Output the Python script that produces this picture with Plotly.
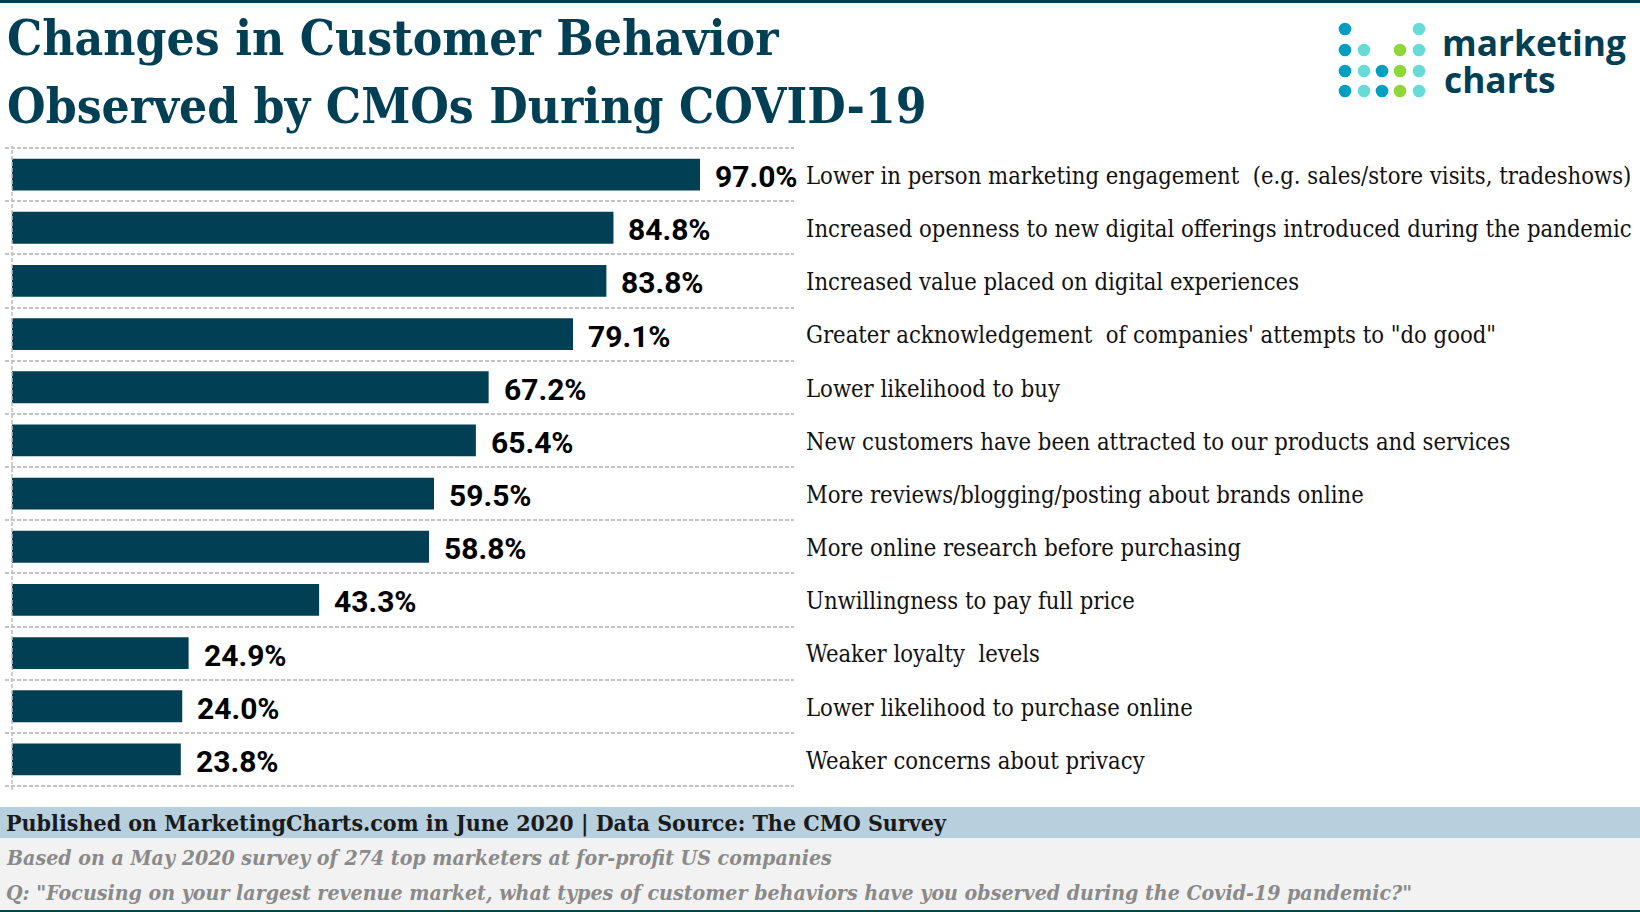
import plotly.graph_objects as go

W, H = 1640, 912

categories = [
    "Lower in person marketing engagement  (e.g. sales/store visits, tradeshows)",
    "Increased openness to new digital offerings introduced during the pandemic",
    "Increased value placed on digital experiences",
    "Greater acknowledgement  of companies' attempts to \"do good\"",
    "Lower likelihood to buy",
    "New customers have been attracted to our products and services",
    "More reviews/blogging/posting about brands online",
    "More online research before purchasing",
    "Unwillingness to pay full price",
    "Weaker loyalty  levels",
    "Lower likelihood to purchase online",
    "Weaker concerns about privacy",
]
values = [97.0, 84.8, 83.8, 79.1, 67.2, 65.4, 59.5, 58.8, 43.3, 24.9, 24.0, 23.8]

title_lines = ["Changes in Customer Behavior", "Observed by CMOs During COVID-19"]
published = "Published on MarketingCharts.com in June 2020 | Data Source: The CMO Survey"
note_lines = [
    "Based on a May 2020 survey of 274 top marketers at for-profit US companies",
    "Q: \"Focusing on your largest revenue market, what types of customer behaviors have you observed during the Covid-19 pandemic?\"",
]

DARK = "#003f54"
SERIF = "'DejaVu Serif Condensed', 'DejaVu Serif', serif"


def px(x):
    return x / W


def py(y):
    return 1 - y / H


idx = list(range(len(values)))

fig = go.Figure(
    go.Bar(
        x=values,
        y=idx,
        orientation="h",
        width=0.6,
        marker=dict(color=DARK, line=dict(width=0)),
        hoverinfo="skip",
    )
)

annotations = []
for v, i in zip(values, idx):
    annotations.append(dict(
        x=v, y=i, xref="x", yref="y", xanchor="left", yanchor="middle",
        xshift=13, yshift=-2, text=f"<b>{v:.1f}%</b>", showarrow=False,
        font=dict(family="Roboto, sans-serif", size=30, color="#000000"),
    ))


def paper_text(x, y, text, size, color, family=SERIF, weight=None):
    font = dict(family=family, size=size, color=color)
    if weight:
        font["weight"] = weight
    annotations.append(dict(
        x=px(x), y=py(y), xref="paper", yref="paper", xanchor="left", yanchor="middle",
        text=text, showarrow=False, font=font,
    ))


paper_text(5, 38, f"<b>{title_lines[0]}</b>", 49.3, DARK)
paper_text(5, 106, f"<b>{title_lines[1]}</b>", 49.3, DARK)
paper_text(4, 823, f"<b>{published}</b>", 23, "#1a1a1a")
paper_text(4, 857, f"<b><i>{note_lines[0]}</i></b>", 21.2, "#8a8a8a")
paper_text(4, 892, f"<b><i>{note_lines[1]}</i></b>", 21.2, "#8a8a8a")
paper_text(1440, 42, "<b>marketing</b>", 35.3, DARK, "'Open Sans', sans-serif")
paper_text(1442, 79, "<b>charts</b>", 35.3, DARK, "'Open Sans', sans-serif")

shapes = []


def rect(x0, y0, x1, y1, color):
    shapes.append(dict(type="rect", xref="paper", yref="paper", x0=px(x0), x1=px(x1),
                       y0=py(y1), y1=py(y0), fillcolor=color, line=dict(width=0), layer="below"))


rect(0, 0, W, 3, DARK)
rect(0, 807, W, 838, "#b8d0de")
rect(0, 838, W, 910, "#f2f2f2")
rect(0, 910, W, H, DARK)

# vertical axis line at zero
shapes.append(dict(type="line", xref="x", yref="paper", x0=0, x1=0, y0=py(790), y1=py(146),
                   line=dict(color="#bdbdbd", width=1.5, dash="4px,2px"), layer="above"))

# logo dots
BLUE, TEAL, GREEN = "#009fc2", "#66dcd8", "#8fd63a"
logo_cols = [
    (1345, [29, 50, 71, 91], BLUE),
    (1364, [50, 71, 91], TEAL),
    (1382, [71, 91], BLUE),
    (1400, [50, 71, 91], GREEN),
    (1419, [29, 50, 71, 91], TEAL),
]
R = 6.3
for cx, ys, col in logo_cols:
    for cy in ys:
        shapes.append(dict(type="circle", xref="paper", yref="paper",
                           x0=px(cx - R), x1=px(cx + R), y0=py(cy + R), y1=py(cy - R),
                           fillcolor=col, line=dict(width=0)))

PX_PER_UNIT = (700 - 12) / 97.0
ROW = (786 - 148) / 12
fig.update_layout(
    width=W, height=H, autosize=False,
    margin=dict(l=0, r=0, t=0, b=0, pad=0),
    paper_bgcolor="#ffffff", plot_bgcolor="#ffffff",
    showlegend=False,
    annotations=annotations,
    shapes=shapes,
    xaxis=dict(
        domain=[px(5), px(794)],
        range=[-7 / PX_PER_UNIT, (794 - 12) / PX_PER_UNIT],
        visible=False, fixedrange=True,
    ),
    yaxis=dict(
        domain=[py(786 + 0.1 * ROW), py(148 - 0.1 * ROW)],
        range=[11.6, -0.6],
        side="right",
        tickmode="array", tickvals=idx, ticktext=categories,
        ticks="", showgrid=False, zeroline=False, showline=False,
        tickfont=dict(family=SERIF, size=23.6, color="#111111"),
        ticklabelstandoff=11, ticklabelshift=-1,
        automargin=False, fixedrange=True,
        minor=dict(tickvals=[i - 0.5 for i in idx] + [11.5], showgrid=True,
                   gridcolor="#c4c4c4", gridwidth=1.5, griddash="4px,2px", ticks=""),
    ),
)

fig.write_html("out.html", post_script="document.body.style.margin='0';document.documentElement.style.overflow='hidden';",
               config={"displayModeBar": False})
